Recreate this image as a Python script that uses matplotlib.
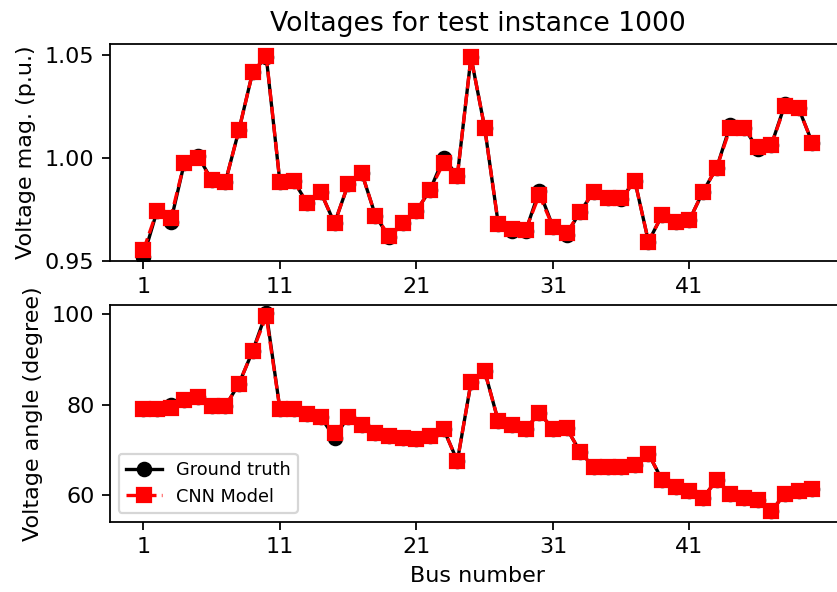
import matplotlib
matplotlib.use('Agg')
import matplotlib.pyplot as plt
import numpy as np

# bus indices 1..50
buses = np.arange(1, 51)

# voltage magnitudes (p.u.)
vm_true = [0.952, 0.9743, 0.969, 0.9977, 1.001, 0.9893, 0.9882, 1.0136, 1.0416, 1.049,
           0.9882, 0.989, 0.978, 0.9833, 0.9683, 0.9872, 0.9926, 0.972, 0.9615, 0.9683,
           0.9743, 0.9845, 1.000, 0.9914, 1.0489, 1.0147, 0.9678, 0.9648, 0.9645, 0.984,
           0.9667, 0.9628, 0.974, 0.9837, 0.9804, 0.9800, 0.989, 0.9594, 0.9723, 0.9691,
           0.9699, 0.9837, 0.9953, 1.016, 1.0147, 1.0045, 1.0063, 1.026, 1.0241, 1.0074]
vm_pred = [0.9553, 0.9743, 0.971, 0.9977, 1.000, 0.9893, 0.9882, 1.0136, 1.0416, 1.0495,
           0.9882, 0.989, 0.978, 0.9833, 0.9683, 0.9872, 0.9926, 0.972, 0.9621, 0.9683,
           0.9743, 0.9845, 0.9977, 0.9914, 1.0489, 1.0147, 0.9678, 0.9654, 0.965, 0.982,
           0.9667, 0.9634, 0.974, 0.9837, 0.9804, 0.9804, 0.989, 0.9594, 0.9723, 0.9691,
           0.9699, 0.9837, 0.9953, 1.0147, 1.0147, 1.0055, 1.0063, 1.0252, 1.0241, 1.0074]

# voltage angles (degree)
va_true = [79.0, 79.0, 79.8, 81.1, 81.7, 79.6, 79.6, 84.6, 91.8, 100.3,
           79.0, 79.0, 77.8, 77.2, 72.7, 77.3, 75.4, 73.6, 73.0, 72.5,
           72.4, 73.0, 74.5, 67.5, 84.9, 87.4, 76.3, 75.4, 74.5, 78.2,
           74.6, 74.8, 69.5, 66.1, 66.1, 66.1, 66.6, 69.1, 63.3, 61.8,
           60.8, 59.4, 63.3, 60.3, 59.4, 58.8, 56.4, 60.3, 60.8, 61.4]
va_pred = [79.0, 79.0, 79.3, 81.1, 81.7, 79.6, 79.6, 84.6, 91.8, 99.5,
           79.0, 79.0, 77.8, 77.2, 73.7, 77.3, 75.4, 73.6, 73.0, 72.5,
           72.4, 73.0, 74.5, 67.5, 84.9, 87.4, 76.3, 75.4, 74.5, 78.2,
           74.6, 74.8, 69.5, 66.1, 66.1, 66.1, 66.6, 69.1, 63.3, 61.8,
           60.8, 59.4, 63.3, 60.3, 59.4, 58.8, 56.4, 60.3, 60.8, 61.4]

xticks = [1, 11, 21, 31, 41]

fig = plt.figure(figsize=(837 / 160, 592 / 160), dpi=160)
ax1 = fig.add_axes([0.1314, 0.5591, 0.879, 0.3666])
ax2 = fig.add_axes([0.1314, 0.1188, 0.879, 0.366])

ax1.plot(buses, vm_true, 'k-o', label='Ground truth')
ax1.plot(buses, vm_pred, 'r--s', label='CNN Model')
ax1.set_title('Voltages for test instance 1000')
ax1.set_ylabel('Voltage mag. (p.u.)')
ax1.set_xticks(xticks)
ax1.set_yticks([0.95, 1.00, 1.05])
ax1.set_ylim(0.95, 1.0553)
ax1.set_xlim(-1.45, 52.45)

ax2.plot(buses, va_true, 'k-o', label='Ground truth')
ax2.plot(buses, va_pred, 'r--s', label='CNN Model')
ax2.set_ylabel('Voltage angle (degree)')
ax2.set_xlabel('Bus number')
ax2.set_xticks(xticks)
ax2.set_yticks([60, 80, 100])
ax2.set_ylim(54.1, 102.0)
ax2.set_xlim(-1.45, 52.45)
ax2.legend(loc='lower left', fontsize=8)

fig.savefig('out.png', dpi=160)
